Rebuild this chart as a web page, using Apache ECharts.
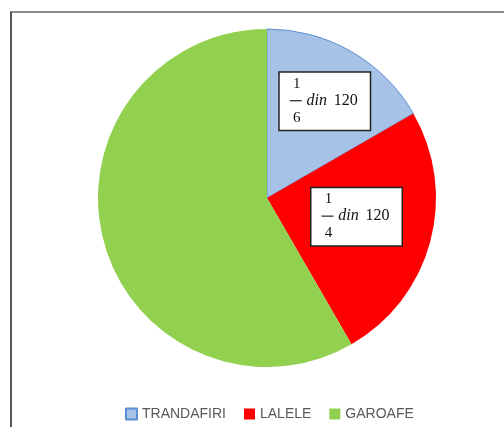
<!DOCTYPE html>
<html>
<head>
<meta charset="utf-8">
<script src="https://cdn.jsdelivr.net/npm/echarts@6/dist/echarts.min.js"></script>
<style>
  html, body { margin: 0; padding: 0; background: #fff; }
  #chart { width: 504px; height: 427px; position: relative; }
  #frame {
    position: absolute; left: 10px; top: 11px; width: 500px; height: 420px;
    border-left: 2px solid #555; border-top: 2px solid #8c8c8c;
    pointer-events: none;
  }
</style>
</head>
<body>
<div id="chart"></div>
<div id="frame"></div>
<script>
// date
const categories = ['TRANDAFIRI', 'LALELE', 'GAROAFE'];
const values = [20, 30, 70];
const total = 120;
const fractionDen = [6, 4, null];   // 1/6 din 120, 1/4 din 120, restul fara eticheta
const colors = ['#a6c3e7', '#ff0000', '#92d050'];

const chart = echarts.init(document.getElementById('chart'));

const serif = '"Liberation Serif", "DejaVu Serif", serif';

const option = {
  animation: false,
  legend: {
    left: 120,
    top: 402,
    icon: 'rect',
    itemWidth: 11,
    itemHeight: 11,
    itemGap: 18,
    textStyle: { color: '#595959', fontSize: 14, fontFamily: '"Liberation Sans", Arial, sans-serif' },
    data: categories
  },
  series: [
    {
      type: 'pie',
      center: [267, 198],
      radius: 169,
      startAngle: 90,
      clockwise: true,
      label: {
        show: true,
        position: 'inside',
        backgroundColor: '#fff',
        borderColor: '#222',
        borderWidth: 1.5,
        padding: [3, 10, 4, 10],
        color: '#222',
        formatter: function (p) {
          const d = fractionDen[p.dataIndex];
          return '{n|1}{sp| }\n{f| }{g| }{i|din}{t| ' + total + '}\n{n|' + d + '}{sp| }';
        },
        rich: {
          n: { width: 10, padding: [0, 0, 0, 2], fontSize: 15, lineHeight: 16, fontFamily: serif, color: '#111' },
          sp: { width: 58 },
          f: { width: 12, height: 1.2, backgroundColor: '#222', fontSize: 15, lineHeight: 18 },
          g: { width: 4 },
          i: { width: 22, fontSize: 16, fontStyle: 'italic', fontFamily: serif, color: '#111', lineHeight: 18 },
          t: { width: 32, fontSize: 16, fontFamily: serif, color: '#111', lineHeight: 18 }
        }
      },
      labelLayout: function (params) {
        if (params.dataIndex === 0) return { dx: 14, dy: -21 };
        if (params.dataIndex === 1) return { dx: 5, dy: -4 };
        return {};
      },
      labelLine: { show: false },
      emphasis: { disabled: true },
      data: categories.map(function (name, i) {
        return {
          name: name,
          value: values[i],
          itemStyle: i === 0
            ? { color: colors[i], borderColor: '#5b8fd3', borderWidth: 1 }
            : { color: colors[i], borderWidth: 0 },
          label: { show: fractionDen[i] != null }
        };
      })
    }
  ]
};

chart.setOption(option);
</script>
</body>
</html>
